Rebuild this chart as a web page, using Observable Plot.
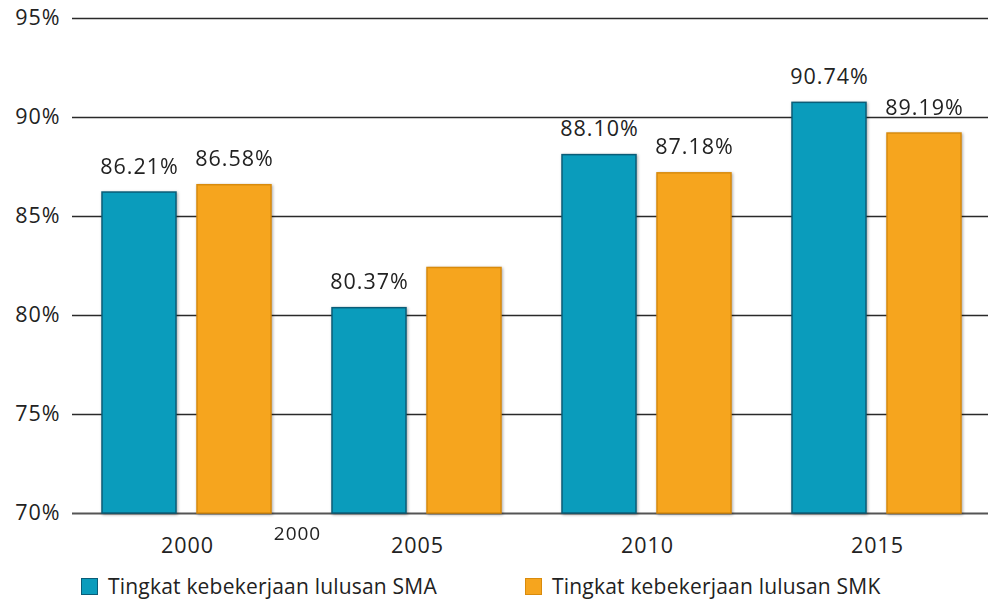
<!DOCTYPE html>
<html>
<head>
<meta charset="utf-8">
<script src="https://cdn.jsdelivr.net/npm/d3@7"></script>
<script src="https://cdn.jsdelivr.net/npm/@observablehq/plot@0.6"></script>
<style>
  html, body { margin: 0; padding: 0; background: #fff; }
  #wrap { position: relative; width: 988px; height: 599px; overflow: hidden; font-family: "Open Sans", "Noto Sans", sans-serif; color: #222; }
  .legend-item { position: absolute; top: 572px; display: flex; align-items: center; font-size: 21px; letter-spacing: 0.2px; color: #222; }
  .swatch { width: 17px; height: 17px; margin-right: 10px; box-sizing: border-box; }
</style>
</head>
<body>
<div id="wrap"></div>
<script>
const years = ["2000", "2005", "2010", "2015"];
const series = ["Tingkat kebekerjaan lulusan SMA", "Tingkat kebekerjaan lulusan SMK"];
const smaValues = [86.21, 80.37, 88.10, 90.74];
const smkValues = [86.58, 82.40, 87.18, 89.19];
const smaLabels = ["86.21%", "80.37%", "88.10%", "90.74%"];
const smkLabels = ["86.58%", "", "87.18%", "89.19%"];
const yTicks = [70, 75, 80, 85, 90, 95];
const strayYear = ["2000"];
const colors = ["#0a9cbc", "#f6a51e"];
const strokes = ["#0a5d78", "#d98b0c"];

const rows = [];
years.forEach((yr, i) => {
  rows.push({year: yr, series: series[0], value: smaValues[i], label: smaLabels[i]});
  rows.push({year: yr, series: series[1], value: smkValues[i], label: smkLabels[i]});
});
const yMin = yTicks[0];

const chart = Plot.plot({
  width: 988,
  height: 565,
  marginLeft: 72,
  marginRight: -4,
  marginTop: 18,
  marginBottom: 52,
  style: {fontFamily: "'Open Sans', 'Noto Sans', sans-serif", fontSize: "21.5px", color: "#222", background: "#fff", overflow: "hidden"},
  fx: {domain: years, padding: 0, axis: "bottom", tickSize: 0, tickPadding: 24, label: null},
  x: {domain: series, axis: null, paddingInner: 0.22, paddingOuter: 0.32},
  y: {domain: [yTicks[0], yTicks[yTicks.length - 1]], ticks: yTicks, tickFormat: d => d + "%", tickSize: 0, tickPadding: 12, label: null},
  color: {domain: series, range: colors},
  marks: [
    Plot.ruleY(yTicks.slice(1), {stroke: "#2a2a2a", strokeWidth: 1.6}),
    Plot.ruleY([yMin], {stroke: "#555", strokeWidth: 2}),
    Plot.barY(rows, {fx: "year", x: "series", y1: () => yMin, y2: "value", fill: "series",
      stroke: d => strokes[series.indexOf(d.series)], strokeWidth: 1.5}),
    Plot.text(rows, {fx: "year", x: "series", y: "value", text: "label", lineAnchor: "bottom", dy: -19,
      fontSize: 21.5, fill: "#222"}),
    Plot.text(strayYear, {fx: d => d, text: d => d, frameAnchor: "bottom-right", textAnchor: "middle", lineAnchor: "middle",
      dy: 20, dx: -5, fontSize: 19, fill: "#222"})
  ]
});
d3.select(chart).selectAll("text").attr("letter-spacing", "1px");
d3.select(chart).selectAll('g[aria-label="bar"]').style("filter", "drop-shadow(1px 1px 1.5px rgba(0,0,0,0.35))");
const wrap = document.getElementById("wrap");
wrap.appendChild(chart);

series.forEach((s, i) => {
  const item = document.createElement("div");
  item.className = "legend-item";
  item.style.left = (i === 0 ? 81 : 525) + "px";
  const sw = document.createElement("div");
  sw.className = "swatch";
  sw.style.background = colors[i];
  sw.style.border = "1px solid " + strokes[i];
  const tx = document.createElement("span");
  tx.textContent = s;
  item.appendChild(sw);
  item.appendChild(tx);
  wrap.appendChild(item);
});
</script>
</body>
</html>
